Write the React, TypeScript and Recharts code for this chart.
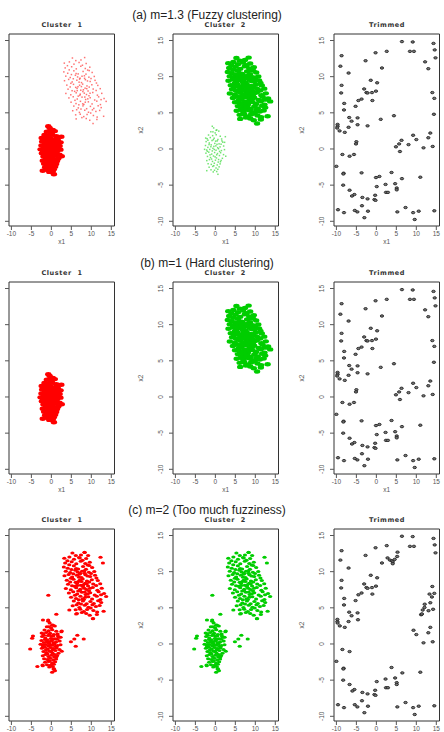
import React from 'react';
import { ScatterChart, Scatter, XAxis, YAxis, ReferenceArea } from 'recharts';

type Pt = [number, number];

const rowTitles = ['(a) m=1.3 (Fuzzy clustering)', '(b) m=1 (Hard clustering)', '(c) m=2 (Too much fuzziness)'];
const panelTitles = ['Cluster  1', 'Cluster  2', 'Trimmed'];
const xTicks = [-10, -5, 0, 5, 10, 15];
const yTicks = [-10, -5, 0, 5, 10, 15];

// group centred near (0, 0)
const clusterOne: Pt[] = [
  [-0.42, 2.91], [0.37, 2.63], [-1.13, 2.38], [-0.05, 2.22], [0.86, 2.47], [-1.71, 1.93], [-0.68, 1.84],
  [0.21, 1.97], [1.23, 1.76], [-2.06, 1.42], [-1.27, 1.58], [-0.31, 1.49], [0.64, 1.31], [1.57, 1.38],
  [-2.31, 1.02], [-1.52, 0.83], [-0.83, 1.17], [0.07, 1.08], [0.93, 0.71], [1.86, 0.94], [-2.47, 0.48],
  [-1.88, 0.22], [-1.04, 0.57], [-0.37, 0.36], [0.41, 0.64], [1.18, 0.29], [2.07, 0.41], [-2.18, -0.14],
  [-1.39, -0.06], [-0.61, 0.09], [0.16, -0.17], [0.79, 0.03], [1.52, -0.22], [2.28, -0.09], [-2.36, -0.58],
  [-1.65, -0.44], [-0.92, -0.71], [-0.18, -0.49], [0.53, -0.63], [1.31, -0.52], [2.04, -0.78], [-1.97, -1.03],
  [-1.21, -1.18], [-0.47, -0.97], [0.28, -1.24], [1.02, -0.91], [1.76, -1.29], [-2.14, -1.61], [-1.48, -1.47],
  [-0.72, -1.72], [0.02, -1.55], [0.71, -1.81], [1.44, -1.58], [-1.81, -2.04], [-1.02, -2.13], [-0.26, -1.97],
  [0.47, -2.21], [1.19, -2.06], [-1.56, -2.52], [-0.66, -2.41], [0.17, -2.63], [0.94, -2.47], [-1.09, -2.88],
  [-0.21, -2.94], [0.62, -2.81], [-0.53, -3.17], [0.34, -3.12],
  [-0.14, 0.77], [0.58, 0.18], [-0.77, -0.27], [0.33, -0.81], [-1.12, 0.31], [1.05, -0.33], [-0.49, 1.29],
  [0.46, 1.12], [-0.95, -1.39], [0.81, -1.46], [-0.28, -0.07], [0.12, 0.43], [-1.58, 0.61], [1.43, 0.66],
  [-0.61, 2.37], [-1.34, -0.81], [1.64, 1.12], [-0.07, -1.09], [-1.86, 1.21], [0.18, 2.58], [-0.39, -2.31],
  [1.27, -1.77], [-2.01, -0.32],
  [-0.77, 3.14], [-2.15, -3.0], [0.64, -3.5], [2.6, -1.0], [2.5, 1.7], [-2.7, -0.05], [2.31, 0.92], [-2.42, 1.51],
];

// group centred near (8, 8)
const clusterTwo: Pt[] = [
  [5.27, 12.58], [7.41, 12.31], [8.33, 12.64], [6.12, 12.22],
  [3.24, 11.87], [4.51, 12.04], [5.66, 11.73], [6.93, 11.96], [8.71, 11.82], [7.78, 11.58], [4.02, 11.52],
  [3.46, 11.21], [5.08, 11.37], [6.24, 11.08], [7.37, 11.44], [8.49, 11.13], [9.62, 11.31], [4.47, 10.94], [9.08, 10.91],
  [3.12, 10.66], [4.09, 10.47], [5.63, 10.81], [6.71, 10.38], [7.94, 10.72], [8.66, 10.35], [10.21, 10.58], [5.02, 10.29],
  [9.47, 10.84],
  [3.61, 10.07], [4.72, 9.88], [6.02, 10.19], [7.18, 9.79], [8.27, 10.12], [9.39, 9.93], [10.74, 10.03], [5.49, 9.71],
  [6.57, 9.96], [9.92, 9.74],
  [3.29, 9.44], [4.33, 9.62], [5.21, 9.27], [6.38, 9.51], [7.54, 9.18], [8.52, 9.58], [9.71, 9.33], [10.93, 9.49],
  [11.28, 9.12], [7.06, 9.66], [4.88, 9.08],
  [3.87, 8.83], [5.54, 8.94], [6.66, 8.61], [7.83, 8.97], [8.91, 8.72], [10.13, 8.88], [11.62, 8.79], [6.09, 8.52],
  [9.48, 8.56], [4.71, 8.58],
  [4.18, 8.27], [5.19, 8.06], [6.43, 8.38], [7.36, 8.13], [8.44, 8.41], [9.18, 8.02], [10.47, 8.29], [11.21, 8.09],
  [12.23, 8.34], [7.88, 7.94], [5.83, 7.97],
  [3.63, 7.68], [4.86, 7.49], [6.21, 7.77], [7.12, 7.41], [8.24, 7.72], [9.41, 7.36], [10.36, 7.81], [11.52, 7.44],
  [12.61, 7.69], [8.79, 7.53], [6.72, 7.31],
  [4.39, 7.06], [5.47, 7.22], [6.48, 6.91], [7.67, 7.17], [8.58, 6.84], [9.72, 7.09], [10.84, 6.77], [11.83, 7.21],
  [13.19, 6.98], [5.91, 6.73], [12.44, 6.82],
  [4.93, 6.47], [6.17, 6.28], [7.28, 6.59], [8.14, 6.16], [9.26, 6.52], [10.19, 6.23], [11.37, 6.61], [13.71, 6.58],
  [12.28, 6.14], [6.88, 6.11],
  [5.62, 5.93], [6.74, 5.68], [7.91, 5.96], [8.83, 5.57], [9.77, 5.89], [10.62, 5.61], [11.71, 5.97], [12.47, 5.72],
  [7.41, 5.52],
  [5.34, 5.29], [6.33, 5.43], [7.02, 5.06], [8.36, 5.36], [9.29, 5.08], [10.28, 5.41], [11.14, 5.19], [12.09, 5.33],
  [9.84, 4.97],
  [6.08, 4.72], [7.23, 4.81], [8.11, 4.48], [8.94, 4.77], [10.52, 4.63], [11.46, 4.41], [13.08, 4.52], [7.64, 4.34],
  [6.21, 4.16], [8.73, 4.21], [9.61, 3.97], [10.43, 3.52], [11.39, 4.08],
  [7.52, 8.63], [8.37, 7.18], [6.94, 9.24], [9.12, 6.93], [8.02, 8.19], [7.23, 7.58], [8.86, 8.34], [6.47, 8.07],
  [9.68, 7.71], [7.84, 6.24], [8.31, 9.77], [6.19, 10.43], [7.67, 10.06], [9.04, 9.41], [8.49, 6.47], [7.07, 8.82],
];

// points between / around the groups that m=2 keeps
const strayPoints: Pt[] = [
  [-0.75, 6.75], [-2.1, 3.3], [-0.8, 3.3], [1.25, 4.1], [-4.6, 1.1], [-4.8, 0.8],
  [-5.3, -0.7], [2.6, 1.8], [-3.5, -3.1], [-2.2, -2.9], [0.2, -3.9], [0.6, -3.4],
  [0.9, -3.7], [4.9, 0.3], [5.75, 0.7], [6.5, 1.2], [8.1, 0.7], [6.1, -0.3],
  [4.5, 4.7], [6.4, 4.2], [8.3, 12.7], [9.2, 12.25], [12.3, 12.0], [12.9, 11.2],
  [7.1, 11.9], [10.4, 3.5],
];

// trimmed observations for m=1.3 and m=1
const trimmedHard: Pt[] = [
  [6.4, 14.85], [9.1, 14.8], [14.3, 14.6], [14.6, 13.7], [14.8, 12.6], [8.4, 13.5], [9.4, 13.5],
  [2.6, 13.5], [-0.2, 13.3], [-8.7, 12.9], [-2.7, 12.2], [12.2, 12.05], [13.0, 11.1], [-9.0, 11.45],
  [1.4, 11.2], [-6.95, 10.5], [-1.4, 9.5], [0.2, 9.15], [-8.7, 8.8], [-3.05, 8.3], [-2.5, 7.8],
  [-2.2, 7.75], [-1.1, 7.8], [-0.1, 8.0], [14.0, 7.8], [-8.8, 7.75], [-3.7, 6.9], [-4.5, 6.7],
  [-1.0, 6.7], [14.5, 7.0], [-8.05, 6.3], [-5.2, 5.9], [-8.1, 5.4], [14.4, 4.8], [4.4, 4.6],
  [-6.8, 4.35], [-4.7, 4.3], [-6.2, 3.85], [1.1, 4.1], [-9.7, 3.4], [-9.7, 3.15], [-9.8, 2.9],
  [-6.95, 3.0], [-4.7, 3.35], [-2.2, 3.2], [-9.2, 2.5], [-7.9, 2.3], [13.5, 2.2], [9.2, 1.9],
  [13.0, 1.55], [-5.0, 1.0], [-5.1, 0.7], [6.3, 1.2], [10.0, 1.3], [5.7, 0.7], [8.05, 0.6],
  [4.9, 0.3], [11.8, 0.16], [14.1, 0.35], [5.9, -0.35], [-8.5, -0.76], [-5.6, -0.76], [-6.7, -1.0],
  [-10.0, -2.4], [-8.2, -3.35], [-8.25, -3.45], [-3.7, -3.3], [3.8, -3.25], [-0.1, -3.95], [0.76, -3.8],
  [11.0, -3.9], [6.4, -4.1], [-8.3, -5.0], [2.3, -4.9], [4.7, -4.8], [0.1, -5.2], [5.1, -5.4],
  [5.1, -5.65], [-6.7, -5.7], [2.4, -6.0], [2.9, -6.0], [-5.5, -6.3], [-6.1, -6.5], [-3.5, -6.7],
  [-2.2, -6.9], [-0.3, -6.4], [-0.5, -7.0], [-0.2, -7.1], [-3.6, -7.85], [7.3, -8.1], [-9.6, -8.4],
  [-5.4, -8.5], [-4.75, -8.7], [-8.1, -8.8], [-2.1, -8.6], [5.25, -8.7], [9.2, -8.8], [10.6, -8.6],
  [14.5, -8.55], [-3.0, -9.5], [9.6, -9.75],
];

// trimmed observations for m=2
const trimmedFuzzy: Pt[] = [
  [6.4, 14.9], [9.1, 14.85], [14.3, 14.6], [14.6, 13.7], [14.8, 12.6], [8.4, 13.5], [9.4, 13.5],
  [2.6, 13.6], [-0.2, 13.3], [-8.7, 12.9], [5.3, 12.7], [-2.7, 12.25], [2.8, 11.9], [3.4, 11.6],
  [3.9, 11.5], [4.1, 11.35], [4.1, 11.1], [4.6, 11.7], [5.2, 12.1], [1.4, 11.2], [-9.0, 11.6],
  [-6.95, 10.5], [-1.4, 9.5], [0.2, 9.15], [-8.7, 8.8], [-3.05, 8.3], [-2.5, 7.8], [-2.2, 7.7],
  [-1.1, 7.8], [-0.1, 8.0], [-8.8, 7.75], [14.0, 7.95], [14.5, 7.0], [-3.7, 7.05], [-4.5, 6.8],
  [-1.0, 6.9], [13.3, 6.9], [13.9, 6.5], [-8.05, 6.3], [-5.2, 6.0], [13.5, 5.7], [12.1, 5.5],
  [-8.1, 5.4], [12.05, 5.05], [11.6, 4.7], [13.05, 4.6], [14.2, 4.8], [-6.8, 4.4], [-4.7, 4.3],
  [-6.2, 3.9], [-4.6, 3.35], [11.3, 4.1], [11.2, 4.05], [11.4, 4.15], [-9.75, 3.4], [-9.75, 3.1],
  [-9.7, 2.9], [-6.95, 3.1], [-9.15, 2.5], [-7.9, 2.3], [13.5, 2.3], [9.3, 1.9], [13.0, 1.55],
  [10.0, 1.3], [11.8, 0.16], [14.1, 0.3], [-8.5, -0.76], [-6.7, -1.05], [-10.0, -2.4], [-8.2, -3.35],
  [-8.25, -3.45], [3.8, -3.25], [11.0, -3.9], [6.5, -4.0], [-8.3, -5.0], [2.3, -4.85], [4.7, -4.7],
  [0.1, -5.2], [5.1, -5.35], [5.1, -5.6], [-6.7, -5.6], [2.4, -6.05], [2.9, -6.05], [-5.5, -6.3],
  [-6.0, -6.5], [-3.5, -6.7], [-2.2, -6.9], [-0.3, -6.4], [-0.5, -7.0], [-0.2, -7.1], [-3.6, -7.85],
  [7.3, -8.1], [-9.6, -8.4], [-5.4, -8.4], [-4.75, -8.7], [-8.1, -8.8], [-2.1, -8.6], [5.25, -8.7],
  [9.2, -8.8], [10.6, -8.6], [14.5, -8.55], [-3.0, -9.5], [9.6, -9.75],
];

const RED = '#ff0000';
const GREEN = '#00cd00';
const X_DOMAIN: [number, number] = [-10.6, 15.8];
const Y_DOMAIN: [number, number] = [-10.65, 15.9];

const BOX_W = 105.5;
const BOX_H = 192;
const Y_AXIS_W = 65;
const X_AXIS_H = 20;
const boxLefts = [9.3, 172.5, 334.3];
const boxTops = [34, 282, 529];

const AXIS_FONT = '"Liberation Sans", Arial, sans-serif';

type Kind = 'big' | 'dust' | 'mid' | 'ring';
interface Layer { points: Pt[]; kind: Kind; color: string }

const panels: Layer[][][] = [
  [
    [{ points: clusterTwo, kind: 'dust', color: RED }, { points: clusterOne, kind: 'big', color: RED }],
    [{ points: clusterOne, kind: 'dust', color: GREEN }, { points: clusterTwo, kind: 'big', color: GREEN }],
    [{ points: trimmedHard, kind: 'ring', color: '#222' }],
  ],
  [
    [{ points: clusterOne, kind: 'big', color: RED }],
    [{ points: clusterTwo, kind: 'big', color: GREEN }],
    [{ points: trimmedHard, kind: 'ring', color: '#222' }],
  ],
  [
    [
      { points: clusterOne, kind: 'mid', color: RED },
      { points: clusterTwo, kind: 'mid', color: RED },
      { points: strayPoints, kind: 'mid', color: RED },
    ],
    [
      { points: clusterOne, kind: 'mid', color: GREEN },
      { points: clusterTwo, kind: 'mid', color: GREEN },
      { points: strayPoints, kind: 'mid', color: GREEN },
    ],
    [{ points: trimmedFuzzy, kind: 'ring', color: '#222' }],
  ],
];

const toXY = (pts: Pt[]) => pts.map(([x, y]) => ({ x, y }));

// marker drawn for each point, sized by membership weight
const marker = (kind: Kind, color: string) => (props: any) => {
  const { cx, cy } = props;
  if (cx == null || cy == null) return <g />;
  if (kind === 'big') return <ellipse cx={cx} cy={cy} rx={3.2} ry={2.2} fill={color} />;
  if (kind === 'mid') return <ellipse cx={cx} cy={cy} rx={2.1} ry={1.5} fill={color} />;
  if (kind === 'dust') return <rect x={cx - 0.75} y={cy - 0.75} width={1.5} height={1.5} fill={color} opacity={0.55} />;
  return <ellipse cx={cx} cy={cy} rx={1.7} ry={1.2} fill="#777" stroke={color} strokeWidth={0.9} />;
};

const YTick = (props: any) => {
  const { x, y, payload } = props;
  return (
    <text
      x={x}
      y={y}
      transform={`rotate(-90 ${x} ${y})`}
      textAnchor="middle"
      fontSize={6.5}
      fill="#555"
      fontFamily={AXIS_FONT}
    >
      {payload.value}
    </text>
  );
};

const NoTick = () => <g />;

interface PanelProps {
  layers: Layer[];
  left: number;
  top: number;
  title: string;
  yLabels: boolean;
  xLabel: boolean;
}

function Panel({ layers, left, top, title, yLabels, xLabel }: PanelProps) {
  return (
    <>
      <div
        style={{
          position: 'absolute',
          left,
          top: top - 13,
          width: BOX_W,
          height: 9,
          lineHeight: '9px',
          textAlign: 'center',
          fontFamily: '"DejaVu Sans", sans-serif',
          fontWeight: 'bold',
          fontSize: 6.5,
          letterSpacing: 0.6,
          color: '#333',
          whiteSpace: 'pre',
        }}
      >
        {title}
      </div>
      <div style={{ position: 'absolute', left: left - Y_AXIS_W, top: top - 2 }}>
        <ScatterChart
          width={Y_AXIS_W + BOX_W + 2}
          height={2 + BOX_H + X_AXIS_H}
          margin={{ top: 2, right: 2, bottom: 0, left: 0 }}
        >
          <XAxis
            type="number"
            dataKey="x"
            domain={X_DOMAIN}
            ticks={xTicks}
            interval={0}
            allowDataOverflow
            axisLine={false}
            tickSize={4}
            tickMargin={1}
            height={X_AXIS_H}
            tickLine={{ stroke: '#555' }}
            tick={{ fontSize: 6.5, fill: '#555', fontFamily: AXIS_FONT }}
            label={
              xLabel
                ? { value: 'x1', position: 'insideBottom', offset: 2, fontSize: 6.5, fill: '#555', fontFamily: AXIS_FONT }
                : undefined
            }
          />
          <YAxis
            type="number"
            dataKey="y"
            domain={Y_DOMAIN}
            ticks={yTicks}
            interval={0}
            allowDataOverflow
            axisLine={false}
            tickSize={4}
            tickMargin={6}
            width={Y_AXIS_W}
            tickLine={{ stroke: '#555' }}
            tick={yLabels ? <YTick /> : <NoTick />}
            label={
              yLabels
                ? { value: 'x2', angle: -90, position: 'center', fontSize: 6.5, fill: '#555', fontFamily: AXIS_FONT }
                : undefined
            }
          />
          {layers.map((layer, i) => (
            <Scatter
              key={i}
              data={toXY(layer.points)}
              isAnimationActive={false}
              shape={marker(layer.kind, layer.color)}
            />
          ))}
          <ReferenceArea
            x1={X_DOMAIN[0]}
            x2={X_DOMAIN[1]}
            y1={Y_DOMAIN[0]}
            y2={Y_DOMAIN[1]}
            fill="none"
            fillOpacity={0}
            stroke="#333"
            strokeWidth={1}
            ifOverflow="visible"
          />
        </ScatterChart>
      </div>
    </>
  );
}

export default function App() {
  return (
    <div
      style={{
        position: 'absolute',
        left: 0,
        top: 0,
        width: 444,
        height: 732,
        overflow: 'hidden',
        background: '#fff',
      }}
    >
      {rowTitles.map((rowTitle, r) => (
        <React.Fragment key={rowTitle}>
          <div
            style={{
              position: 'absolute',
              left: 0,
              width: 414,
              top: boxTops[r] - 26,
              height: 14,
              lineHeight: '14px',
              textAlign: 'center',
              fontFamily: AXIS_FONT,
              fontSize: 12,
              color: '#222',
            }}
          >
            {rowTitle}
          </div>
          {panelTitles.map((t, c) => (
            <Panel
              key={t}
              layers={panels[r][c]}
              left={boxLefts[c]}
              top={boxTops[r]}
              title={t}
              yLabels={c > 0}
              xLabel={r < 2}
            />
          ))}
        </React.Fragment>
      ))}
    </div>
  );
}
